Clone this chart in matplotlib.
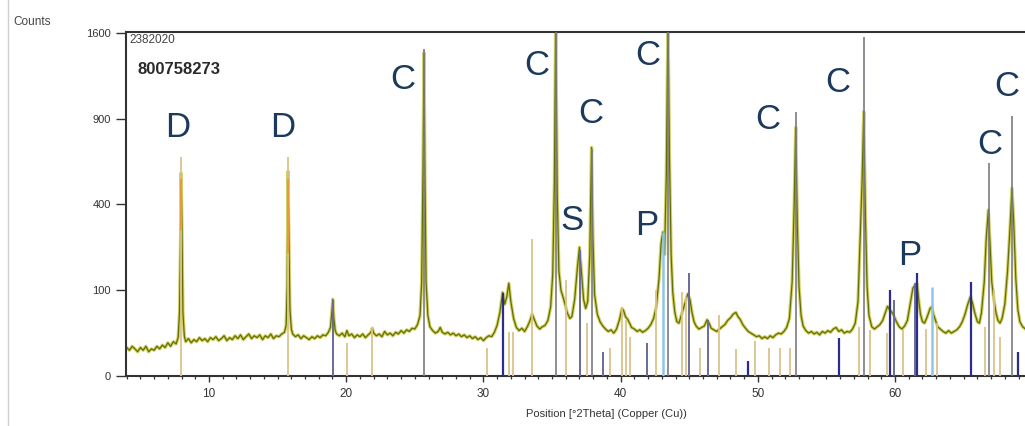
import numpy as np
import matplotlib
matplotlib.use("Agg")
import matplotlib.pyplot as plt
from matplotlib.lines import Line2D

plt.rcParams['font.family'] = ['Liberation Sans', 'DejaVu Sans']

scan_points = [
    (4.0, 11), (4.2, 9), (4.4, 12), (4.6, 10), (4.8, 8), (5.0, 11), (5.2, 9), (5.4, 12),
    (5.6, 8), (5.8, 10), (6.0, 9), (6.2, 12), (6.4, 10), (6.6, 13), (6.8, 11), (7.0, 15),
    (7.2, 12), (7.4, 16), (7.6, 14),
    (7.75, 20), (7.85, 55), (7.92, 230), (7.97, 560), (8.03, 280), (8.1, 55), (8.2, 22),
    (8.3, 16), (8.5, 19), (8.7, 15), (8.9, 18), (9.1, 16), (9.3, 20), (9.5, 17), (9.7, 19),
    (9.9, 16), (10.1, 20), (10.3, 18), (10.5, 21), (10.7, 17), (10.9, 19), (11.1, 22),
    (11.3, 17), (11.5, 20), (11.7, 18), (11.9, 22), (12.1, 19), (12.3, 23), (12.5, 18),
    (12.7, 21), (12.9, 24), (13.1, 19), (13.3, 22), (13.5, 20), (13.7, 23), (13.9, 18),
    (14.1, 22), (14.3, 20), (14.5, 24), (14.7, 19), (14.9, 22), (15.1, 21), (15.3, 24),
    (15.5, 26),
    (15.62, 35), (15.7, 110), (15.76, 570), (15.82, 260), (15.9, 60), (16.0, 30),
    (16.1, 24), (16.3, 21), (16.5, 23), (16.7, 19), (16.9, 22), (17.1, 20), (17.3, 18),
    (17.5, 21), (17.7, 19), (17.9, 22), (18.1, 20), (18.3, 23), (18.5, 22), (18.7, 26),
    (18.85, 32), (18.95, 55), (19.02, 80), (19.1, 45), (19.2, 28),
    (19.3, 24), (19.5, 22), (19.7, 25), (19.9, 21), (20.05, 28), (20.2, 22), (20.4, 24),
    (20.6, 20), (20.8, 23), (21.0, 21), (21.2, 24), (21.4, 20), (21.6, 23), (21.8, 26),
    (21.9, 31), (22.0, 25), (22.2, 22), (22.4, 24), (22.6, 21), (22.8, 27), (23.0, 23),
    (23.2, 25), (23.4, 22), (23.6, 26), (23.8, 24), (24.0, 28), (24.2, 25), (24.4, 29),
    (24.6, 27), (24.8, 31), (25.0, 30), (25.2, 36),
    (25.38, 50), (25.5, 120), (25.6, 600), (25.67, 1420), (25.74, 520), (25.82, 120),
    (25.95, 50), (26.1, 33),
    (26.3, 28), (26.5, 25), (26.7, 27), (26.85, 32), (27.0, 26), (27.2, 24), (27.4, 26),
    (27.6, 23), (27.8, 25), (28.0, 22), (28.2, 24), (28.4, 21), (28.6, 23), (28.8, 20),
    (29.0, 22), (29.2, 19), (29.4, 21), (29.6, 18), (29.8, 20), (30.0, 17), (30.2, 20),
    (30.4, 22), (30.6, 21), (30.8, 26), (31.0, 35), (31.2, 55),
    (31.4, 95), (31.55, 70), (31.7, 85), (31.85, 117), (32.0, 75), (32.2, 45), (32.4, 32),
    (32.6, 28), (32.8, 31), (33.0, 27), (33.2, 33), (33.4, 42), (33.55, 52), (33.7, 44),
    (33.9, 34), (34.1, 30), (34.3, 33), (34.5, 35), (34.7, 42), (34.9, 65),
    (35.05, 140), (35.17, 500), (35.27, 1750), (35.38, 450), (35.5, 150), (35.65, 100),
    (35.8, 85), (35.95, 70), (36.1, 55), (36.3, 45), (36.45, 48), (36.65, 80), (36.85, 160),
    (37.0, 225), (37.12, 160), (37.3, 80), (37.45, 62), (37.6, 75), (37.75, 200),
    (37.88, 710), (37.98, 260), (38.1, 90), (38.3, 52), (38.5, 40), (38.7, 34), (38.9, 30),
    (39.1, 27), (39.3, 29), (39.5, 25), (39.7, 30), (39.9, 42), (40.1, 62), (40.22, 58),
    (40.35, 48), (40.5, 44), (40.65, 38), (40.8, 32), (41.0, 30), (41.2, 27), (41.4, 29),
    (41.6, 26), (41.8, 28), (42.0, 31), (42.2, 36), (42.4, 45), (42.6, 65), (42.8, 130),
    (42.95, 240), (43.08, 282), (43.2, 200), (43.33, 550), (43.45, 1750), (43.56, 650),
    (43.68, 200), (43.8, 95), (43.95, 55), (44.1, 40), (44.25, 38), (44.45, 52), (44.7, 72),
    (44.9, 92), (45.05, 80), (45.2, 55), (45.35, 40), (45.5, 34), (45.7, 30), (45.9, 32),
    (46.1, 34), (46.3, 43), (46.45, 38), (46.6, 31), (46.8, 29), (47.0, 27), (47.2, 30),
    (47.4, 33), (47.6, 36), (47.8, 42), (48.0, 46), (48.2, 52), (48.4, 55), (48.55, 48),
    (48.7, 44), (48.9, 36), (49.1, 31), (49.3, 27), (49.5, 25), (49.7, 23), (49.9, 21),
    (50.1, 22), (50.3, 19), (50.5, 21), (50.7, 19), (50.9, 22), (51.1, 20), (51.3, 23),
    (51.5, 25), (51.7, 24), (51.9, 27), (52.1, 32), (52.3, 45),
    (52.5, 120), (52.65, 400), (52.76, 840), (52.88, 320), (53.0, 110), (53.15, 50),
    (53.3, 34), (53.5, 28), (53.7, 25), (53.9, 27), (54.1, 24), (54.3, 26), (54.5, 23),
    (54.7, 27), (54.9, 25), (55.1, 28), (55.3, 26), (55.5, 30), (55.7, 32), (55.9, 27),
    (56.1, 29), (56.3, 25), (56.5, 27), (56.7, 26), (56.9, 30), (57.1, 38), (57.3, 75),
    (57.48, 300), (57.6, 520), (57.72, 950), (57.84, 350), (57.96, 110), (58.1, 50),
    (58.3, 33), (58.5, 30), (58.7, 33), (58.9, 36), (59.1, 42), (59.3, 55), (59.45, 66),
    (59.6, 60), (59.75, 56), (59.9, 50), (60.1, 40), (60.3, 33), (60.5, 30), (60.7, 34),
    (60.9, 42), (61.1, 70), (61.3, 105), (61.45, 112), (61.6, 117), (61.72, 80), (61.85, 52),
    (62.0, 40), (62.15, 38), (62.35, 48), (62.55, 62), (62.68, 65), (62.8, 52), (62.95, 42),
    (63.1, 33), (63.3, 30), (63.5, 27), (63.7, 25), (63.9, 28), (64.1, 25), (64.3, 27),
    (64.5, 29), (64.7, 33), (64.9, 40), (65.1, 52), (65.3, 70), (65.5, 86), (65.65, 72),
    (65.8, 55), (66.0, 40), (66.15, 38), (66.3, 55), (66.5, 120), (66.65, 260), (66.8, 375),
    (66.92, 240), (67.05, 120), (67.2, 80), (67.35, 55), (67.5, 42), (67.65, 38), (67.8, 45),
    (68.0, 70), (68.2, 150), (68.38, 300), (68.52, 480), (68.65, 320), (68.8, 130),
    (68.95, 60), (69.1, 40), (69.3, 33), (69.5, 30),
]
scan_2theta = [p[0] for p in scan_points]
scan_counts = [p[1] for p in scan_points]

# ---------------- reference patterns (stick positions and heights) ----------------
grey_pos = [25.67, 35.27, 37.90, 43.45, 52.78, 57.72, 66.85, 68.55]
grey_h = [1450, 1700, 700, 1700, 947, 1560, 616, 918]

tan_pos = [7.97, 15.76, 20.03, 21.90, 30.26, 31.87, 32.16, 33.54, 36.00, 37.53,
           39.20, 40.08, 40.40, 40.70, 42.58, 44.50, 44.77, 45.80, 47.15, 48.40,
           49.80, 50.80, 51.60, 52.35, 57.35, 58.20, 59.40, 60.55, 62.25, 63.05,
           66.55, 67.20, 67.65]
tan_h = [650, 650, 15, 33, 11, 26, 26, 255, 125, 38,
         11, 65, 43, 21, 100, 96, 85, 11, 50, 10,
         17, 11, 11, 11, 33, 29, 25, 29, 30, 38,
         33, 100, 21]

orange_pos = [7.97, 15.76]
orange_low = [290, 205]
orange_high = [530, 530]

navy_pos = [31.40, 49.30, 55.90, 59.60, 61.60, 65.54, 68.95]
navy_h = [94, 3, 20, 100, 144, 120, 8]

slate_pos = [19.05, 37.04, 38.70, 41.90, 45.00, 46.37, 59.90, 61.45]
slate_h = [78, 216, 8, 15, 144, 43, 78, 117]

lightblue_pos = [43.10, 62.67]
lightblue_h = [282, 108]

# ---------------- phase labels ----------------
label_text = ['D', 'D', 'C', 'C', 'C', 'C', 'S', 'P', 'C', 'C', 'P', 'C', 'C']
label_x = [7.74, 15.39, 24.14, 33.90, 37.84, 42.00, 36.46, 41.92, 50.74, 55.85, 61.09, 66.92, 68.16]
label_y = [843, 843, 1192, 1315, 934, 1393, 327, 310, 898, 1168, 199, 726, 1136]

y_ticks = [0, 100, 400, 900, 1600]
x_ticks = [10, 20, 30, 40, 50, 60]

# ---------------- figure ----------------
W, H = 1025, 426
fig = plt.figure(figsize=(W / 100, H / 100), dpi=100)
left_px, right_px, top_px, bot_px = 126, 1094, 32, 376
ax = fig.add_axes([left_px / W, 1 - bot_px / H, (right_px - left_px) / W, (bot_px - top_px) / H])

ax.set_yscale('function', functions=(lambda v: np.sqrt(np.clip(v, 0, None)), lambda v: np.square(v)))
ax.set_xlim(3.95, 74.5)
ax.set_ylim(0, 1609)

# scan
ax.plot(scan_2theta, scan_counts, color='#cdc84e', lw=2.4, alpha=0.85, zorder=2, solid_joinstyle='round')
ax.plot(scan_2theta, scan_counts, color='#617000', lw=0.9, zorder=2.5)

# sticks
ax.vlines(tan_pos, 0, tan_h, colors='#dcc38c', lw=1.3, zorder=3)
ax.vlines(orange_pos, orange_low, orange_high, colors='#e79a3a', lw=1.4, zorder=3.1)
ax.vlines(slate_pos, 0, slate_h, colors='#6a6a9c', lw=1.4, zorder=3.2)
ax.vlines(navy_pos, 0, navy_h, colors='#2b2b90', lw=1.6, zorder=3.3)
ax.vlines(lightblue_pos, 0, lightblue_h, colors='#8ec5e8', lw=1.8, zorder=3.2)
ax.vlines(grey_pos, 0, grey_h, colors='#7a7a82', lw=1.2, zorder=3.4)

for t, x, y in zip(label_text, label_x, label_y):
    ax.text(x, y, t, fontsize=25, color='#1b3a5c', ha='center', va='center', zorder=5)

# ticks and spines
ax.set_yticks(y_ticks)
ax.set_yticklabels([str(v) for v in y_ticks])
ax.set_xticks(x_ticks)
ax.set_xticklabels([str(v) for v in x_ticks])
ax.set_xticks(np.arange(4, 70, 1), minor=True)
ax.yaxis.set_minor_locator(matplotlib.ticker.NullLocator())
ax.tick_params(axis='y', which='major', direction='out', length=7.5, width=1.0,
               labelsize=8, pad=3.5, colors='#333333')
ax.tick_params(axis='x', which='major', direction='out', length=4.5, width=1.0,
               labelsize=8.5, pad=4, colors='#333333')
ax.tick_params(axis='x', which='minor', direction='out', length=2.5, width=0.9, colors='#333333')
for s in ax.spines.values():
    s.set_color('#333333')
    s.set_linewidth(1.5)

# texts
ax.text(0.004, 0.995, '2382020', transform=ax.transAxes, fontsize=8.5, color='#444444',
        ha='left', va='top')
fig.text(137 / W, 1 - 69 / H, '800758273', fontsize=12, fontweight='bold', color='#2a2a2a',
         ha='left', va='center')
fig.text(13 / W, 1 - 22 / H, 'Counts', fontsize=8.5, color='#444444', ha='left', va='center')
fig.text(606 / W, 1 - 414 / H, 'Position [°2Theta] (Copper (Cu))', fontsize=8, color='#333333',
         ha='center', va='center')
fig.add_artist(Line2D([8 / W, 8 / W], [0, 1], color='#cfcfcf', lw=1.0))

fig.savefig('out.png', dpi=100)
